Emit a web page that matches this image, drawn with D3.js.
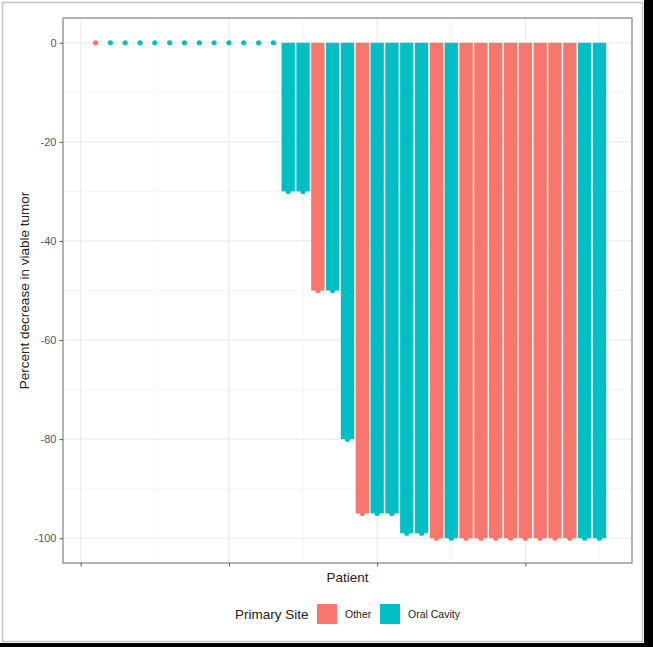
<!DOCTYPE html>
<html>
<head>
<meta charset="utf-8">
<script src="https://cdn.jsdelivr.net/npm/d3@7"></script>
<style>
  body { margin: 0; background: #000; }
  svg { display: block; font-family: "Liberation Sans", Arial, sans-serif; }
</style>
</head>
<body>
<div id="chart"></div>
<script>
// patients in plotted order
const patients = d3.range(1, 36);
const decrease = [0, 0, 0, 0, 0, 0, 0, 0, 0, 0, 0, 0, 0,
    -30, -30, -50, -50, -80, -95, -95, -95, -99, -99,
    -100, -100, -100, -100, -100, -100, -100, -100, -100, -100, -100, -100];
const site = ["Other", "Oral Cavity", "Oral Cavity", "Oral Cavity", "Oral Cavity", "Oral Cavity",
    "Oral Cavity", "Oral Cavity", "Oral Cavity", "Oral Cavity", "Oral Cavity", "Oral Cavity", "Oral Cavity",
    "Oral Cavity", "Oral Cavity", "Other", "Oral Cavity", "Oral Cavity", "Other", "Oral Cavity",
    "Oral Cavity", "Oral Cavity", "Oral Cavity", "Other", "Oral Cavity", "Other", "Other", "Other",
    "Other", "Other", "Other", "Other", "Other", "Oral Cavity", "Oral Cavity"];
const siteNames = ["Other", "Oral Cavity"];
const yTicks = [0, -20, -40, -60, -80, -100];
const yMinor = [-10, -30, -50, -70, -90];
const xTicks = [0, 10, 20, 30];
const xMinor = [5, 15, 25, 35];

const data = patients.map((p, i) => ({ patient: p, value: decrease[i], site: site[i] }));

const width = 653;
const height = 647;
const panel = { left: 63, top: 18, right: 632, bottom: 563 };

const svg = d3.select("#chart").append("svg")
    .attr("width", width)
    .attr("height", height);

// white page with thin grey frame, black edge like the screenshot
svg.append("rect").attr("x", 0).attr("y", 0).attr("width", 644).attr("height", 643).attr("fill", "#fff");
svg.append("rect").attr("x", 2.5).attr("y", 2.5).attr("width", 640).attr("height", 639)
    .attr("fill", "none").attr("stroke", "#c4c4c4").attr("stroke-width", 1.5);

const x = d3.scaleLinear().domain([-1.195, 37.195]).range([panel.left, panel.right]);
const y = d3.scaleLinear().domain([5, -105]).range([panel.top, panel.bottom]);
const color = d3.scaleOrdinal().domain(siteNames).range(["#F8766D", "#00BFC4"]);

// grid
const grid = svg.append("g");
grid.selectAll(".ymin").data(yMinor).enter().append("line")
    .attr("x1", panel.left).attr("x2", panel.right)
    .attr("y1", d => y(d)).attr("y2", d => y(d))
    .attr("stroke", "#f3f3f3").attr("stroke-width", 0.8);
grid.selectAll(".xmin").data(xMinor).enter().append("line")
    .attr("y1", panel.top).attr("y2", panel.bottom)
    .attr("x1", d => x(d)).attr("x2", d => x(d))
    .attr("stroke", "#f3f3f3").attr("stroke-width", 0.8);
grid.selectAll(".ymaj").data(yTicks).enter().append("line")
    .attr("x1", panel.left).attr("x2", panel.right)
    .attr("y1", d => y(d)).attr("y2", d => y(d))
    .attr("stroke", "#ebebeb").attr("stroke-width", 1.2);
grid.selectAll(".xmaj").data(xTicks).enter().append("line")
    .attr("y1", panel.top).attr("y2", panel.bottom)
    .attr("x1", d => x(d)).attr("x2", d => x(d))
    .attr("stroke", "#ebebeb").attr("stroke-width", 1.2);

// bars
const barW = x(0.9) - x(0);
svg.append("g").selectAll("rect").data(data.filter(d => d.value < 0)).enter().append("rect")
    .attr("x", d => x(d.patient) - barW / 2)
    .attr("y", y(0))
    .attr("width", barW)
    .attr("height", d => y(d.value) - y(0))
    .attr("fill", d => color(d.site));

// points at each value
svg.append("g").selectAll("circle").data(data).enter().append("circle")
    .attr("cx", d => x(d.patient))
    .attr("cy", d => y(d.value))
    .attr("r", 2.6)
    .attr("fill", d => color(d.site));

// panel border
svg.append("rect")
    .attr("x", panel.left).attr("y", panel.top)
    .attr("width", panel.right - panel.left).attr("height", panel.bottom - panel.top)
    .attr("fill", "none").attr("stroke", "#8a8a8a").attr("stroke-width", 1.3);

// axes
const yAxis = svg.append("g")
    .attr("transform", "translate(" + panel.left + ",0)")
    .call(d3.axisLeft(y).tickValues(yTicks).tickSize(3.5).tickPadding(3).tickFormat(d => String(d)));
yAxis.select(".domain").remove();
yAxis.selectAll("line").attr("stroke", "#555");
yAxis.selectAll("text").attr("fill", "#555").style("font-size", "11px")
    .style("font-family", "'Liberation Sans', Arial, sans-serif");

const xAxis = svg.append("g")
    .attr("transform", "translate(0," + panel.bottom + ")")
    .call(d3.axisBottom(x).tickValues(xTicks).tickSize(3.5).tickFormat(""));
xAxis.select(".domain").remove();
xAxis.selectAll("line").attr("stroke", "#555");

// titles
svg.append("text")
    .attr("transform", "translate(29," + ((panel.top + panel.bottom) / 2) + ") rotate(-90)")
    .attr("text-anchor", "middle")
    .attr("fill", "#222")
    .style("font-size", "13.5px")
    .text("Percent decrease in viable tumor");

svg.append("text")
    .attr("x", (panel.left + panel.right) / 2)
    .attr("y", 582)
    .attr("text-anchor", "middle")
    .attr("fill", "#222")
    .style("font-size", "13.5px")
    .text("Patient");

// legend
const legend = svg.append("g").attr("transform", "translate(235,0)");
legend.append("text")
    .attr("x", 0).attr("y", 619)
    .attr("fill", "#222")
    .style("font-size", "13.5px")
    .text("Primary Site");
const keyX = [82, 145];
const labelX = [110, 173];
legend.selectAll(".key").data(siteNames).enter().append("rect")
    .attr("x", (d, i) => keyX[i])
    .attr("y", 604)
    .attr("width", 20).attr("height", 20)
    .attr("fill", d => color(d));
legend.selectAll(".lab").data(siteNames).enter().append("text")
    .attr("x", (d, i) => labelX[i])
    .attr("y", 618)
    .attr("fill", "#222")
    .style("font-size", "10.5px")
    .text(d => d);
</script>
</body>
</html>
